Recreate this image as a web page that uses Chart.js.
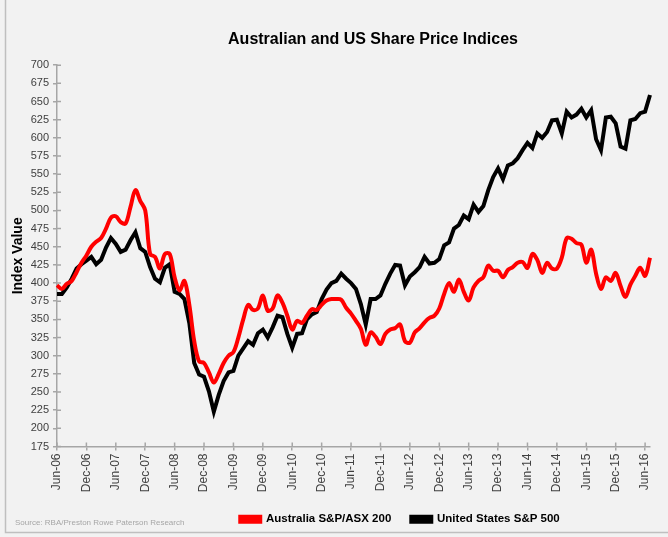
<!DOCTYPE html>
<html>
<head>
<meta charset="utf-8">
<script src="https://cdn.jsdelivr.net/npm/chart.js@4.4.1/dist/chart.umd.min.js"></script>
<style>
  html, body { margin: 0; padding: 0; background: #f2f2f2; }
  #wrap { width: 668px; height: 537px; position: relative; }
</style>
</head>
<body>
<div id="wrap"><canvas id="indexChart"></canvas></div>
<script>
// monthly series, Jun-06 .. Jul-16
const monthNames = ['Jan', 'Feb', 'Mar', 'Apr', 'May', 'Jun', 'Jul', 'Aug', 'Sep', 'Oct', 'Nov', 'Dec'];
const firstYear = 2006;
const firstMonth = 5; // June

const ausValues = [
  397, 392, 399, 403, 415, 428, 438, 450, 457, 462, 475, 490, 492, 484, 482, 505,
  528, 513, 500, 440, 436, 420, 440, 440, 408, 390, 403, 370, 320, 292, 290, 277,
  263, 275, 290, 300, 305, 325, 350, 370, 363, 365, 383, 362, 365, 383, 373, 355,
  336, 348, 345, 355, 364, 363, 370, 376, 378, 378, 377, 366, 358, 348, 337, 315,
  332, 326, 316, 330, 336, 338, 343, 320, 318, 332, 338, 346, 352, 355, 365, 385,
  400, 388, 405, 388, 376, 394, 403, 408, 424, 417, 417, 408, 418, 422, 428, 429,
  421, 440, 432, 414, 428, 420, 420, 435, 462, 461, 455, 453, 428, 446, 413, 392,
  408, 403, 414, 396, 381, 398, 410, 421, 410, 435
];

const usValues = [
  385, 385, 394, 406, 420, 426, 431, 436, 426, 432, 449, 462, 454, 443, 446, 459,
  470, 448, 443, 422, 406, 401, 421, 426, 388, 385, 378, 345, 290, 274, 271, 251,
  223, 246, 265, 277, 279, 300, 310, 320, 315, 331, 336, 325, 339, 355, 353, 330,
  311, 330, 331, 350, 357, 360, 378, 391, 400, 403, 413, 406, 400, 392, 371, 343,
  378, 378, 383, 399, 413, 425, 424, 397, 409, 415, 422, 436, 427, 428, 433, 452,
  456, 475, 480, 493, 488, 508, 498, 506, 528, 546, 558, 543, 562, 565, 572, 583,
  593, 586, 606, 600, 608, 624, 625, 606, 636, 628, 632, 640, 628, 638, 598, 583,
  628, 629, 620, 588, 585, 624, 626, 634, 636, 659
];

const yMin = 175;
const yMax = 700;
const yStep = 25;

const labels = [];
for (let i = 0; i < ausValues.length; i++) {
  const m = (firstMonth + i) % 12;
  const y = firstYear + Math.floor((firstMonth + i) / 12);
  labels.push(monthNames[m] + '-' + String(y).slice(2));
}

const FONT = "'Liberation Sans', Arial, sans-serif";
const AXIS_GREY = '#a6a6a6';

const framePlugin = {
  id: 'frame',
  afterLayout(chart) {
    // Excel put the title and legend off-centre
    if (chart.titleBlock) {
      chart.titleBlock.left += 48;
      chart.titleBlock.right += 48;
    }
    if (chart.legend) {
      chart.legend.left += 75;
      chart.legend.right += 75;
      chart.legend.top -= 1;
      chart.legend.bottom -= 1;
    }
  },
  beforeDraw(chart) {
    const ctx = chart.ctx;
    ctx.save();
    ctx.fillStyle = '#f2f2f2';
    ctx.fillRect(0, 0, chart.width, chart.height);
    ctx.strokeStyle = '#bfbfbf';
    ctx.lineWidth = 1.5;
    ctx.beginPath();
    ctx.moveTo(5.5, 0);
    ctx.lineTo(5.5, 532.5);
    ctx.lineTo(chart.width, 532.5);
    ctx.stroke();
    ctx.restore();
  },
  afterDraw(chart) {
    const ctx = chart.ctx;
    const xs = chart.scales.x;
    const ys = chart.scales.y;
    ctx.save();
    // inner half of the crossing tick marks
    ctx.strokeStyle = AXIS_GREY;
    ctx.lineWidth = 1.5;
    ctx.beginPath();
    ys.ticks.forEach((t, i) => {
      const py = ys.getPixelForTick(i);
      ctx.moveTo(xs.left, py);
      ctx.lineTo(xs.left + 4, py);
    });
    xs.ticks.forEach((t, i) => {
      if (i % 6 !== 0) return;
      const px = xs.getPixelForTick(i);
      ctx.moveTo(px, ys.bottom);
      ctx.lineTo(px, ys.bottom - 4);
    });
    ctx.stroke();
    // source note
    ctx.fillStyle = '#a6a6a6';
    ctx.font = '8px ' + FONT;
    ctx.textBaseline = 'middle';
    ctx.textAlign = 'left';
    ctx.fillText('Source: RBA/Preston Rowe Paterson Research', 15, 523);
    ctx.restore();
  }
};

new Chart(document.getElementById('indexChart'), {
  type: 'line',
  data: {
    labels: labels,
    datasets: [
      {
        label: 'Australia S&P/ASX 200',
        data: ausValues,
        borderColor: '#ff0000',
        backgroundColor: '#ff0000',
        borderWidth: 4,
        pointRadius: 0,
        tension: 0.35,
        fill: false
      },
      {
        label: 'United States S&P 500',
        data: usValues,
        borderColor: '#000000',
        backgroundColor: '#000000',
        borderWidth: 4,
        pointRadius: 0,
        tension: 0,
        fill: false
      }
    ]
  },
  options: {
    responsive: true,
    maintainAspectRatio: false,
    animation: false,
    layout: {
      padding: { left: 0, right: 18, top: 0, bottom: 1 }
    },
    plugins: {
      title: {
        display: true,
        text: 'Australian and US Share Price Indices',
        color: '#000000',
        font: { family: FONT, size: 16, weight: 'bold' },
        padding: { top: 30, bottom: 16 }
      },
      legend: {
        display: true,
        position: 'bottom',
        labels: {
          color: '#000000',
          font: { family: FONT, size: 11.5, weight: 'bold' },
          boxWidth: 20,
          boxHeight: 5,
          padding: 20
        }
      },
      tooltip: { enabled: false }
    },
    scales: {
      x: {
        type: 'category',
        offset: false,
        afterFit: (s) => { s.height = 48; },
        border: { color: AXIS_GREY, width: 1.5 },
        grid: {
          drawOnChartArea: false,
          drawTicks: true,
          tickLength: 4,
          lineWidth: 1.5,
          color: (c) => (c.index % 6 === 0 ? AXIS_GREY : 'rgba(0,0,0,0)')
        },
        ticks: {
          autoSkip: false,
          maxRotation: 90,
          minRotation: 90,
          padding: 3,
          color: '#404040',
          font: { family: FONT, size: 12 },
          callback: function (value, index) {
            return index % 6 === 0 ? this.getLabelForValue(value) : '';
          }
        }
      },
      y: {
        min: yMin,
        max: yMax,
        afterFit: (s) => { s.width = 57; },
        border: { color: AXIS_GREY, width: 1.5 },
        grid: {
          drawOnChartArea: false,
          drawTicks: true,
          tickLength: 4,
          lineWidth: 1.5,
          color: AXIS_GREY
        },
        ticks: {
          stepSize: yStep,
          autoSkip: false,
          padding: 4,
          color: '#404040',
          font: { family: FONT, size: 11 }
        },
        title: {
          display: true,
          text: 'Index Value',
          color: '#000000',
          font: { family: FONT, size: 14, weight: 'bold' },
          padding: { top: 10, bottom: 4 }
        }
      }
    }
  },
  plugins: [framePlugin]
});
</script>
</body>
</html>
